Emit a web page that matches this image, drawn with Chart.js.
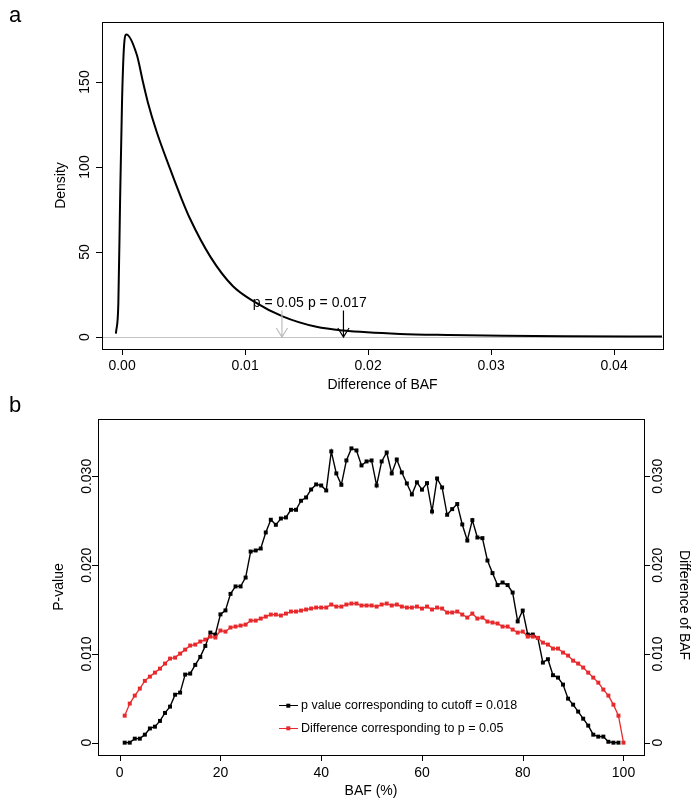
<!DOCTYPE html>
<html>
<head>
<meta charset="utf-8">
<script src="https://cdn.jsdelivr.net/npm/chart.js@4.4.1/dist/chart.umd.min.js"></script>
<style>
  body { margin: 0; background: #fff; }
  #wrapA { position: absolute; left: 0; top: 0; width: 692px; height: 395px; }
  #wrapB { position: absolute; left: 0; top: 395px; width: 692px; height: 404px; }
</style>
</head>
<body>
<div id="wrapA"><canvas id="chartA"></canvas></div>
<div id="wrapB"><canvas id="chartB"></canvas></div>
<script>
// ---- panel a: density of BAF difference ----
const densX = [-0.0005, -0.0003, -0.00016, 0.0, 0.00016, 0.00035, 0.0012, 0.0017, 0.0021, 0.0028, 0.0039,
  0.0048, 0.0055, 0.0072, 0.009, 0.0107, 0.0131, 0.0158, 0.018, 0.0226, 0.0266, 0.031, 0.036, 0.0439];
const densY = [2, 20, 80, 139, 171, 178, 166, 150, 138, 121, 99,
  82, 70, 47, 30, 21, 12, 6, 3.8, 1.8, 1.2, 0.8, 0.5, 0.3];
const xTicksA = [0, 0.01, 0.02, 0.03, 0.04];
const xTickLabelsA = ['0.00', '0.01', '0.02', '0.03', '0.04'];
const yTicksA = [0, 50, 100, 150];
const yTickLabelsA = ['0', '50', '100', '150'];
const arrowX = [0.013, 0.018];
const arrowTop = 15.6;
const arrowColors = ['#bdbdbd', '#000000'];
const arrowLabels = ['p = 0.05', 'p = 0.017'];
const arrowLabelX = [0.0127, 0.0175];
const arrowLabelY = 20.2;

// ---- panel b: p value / difference vs BAF ----
const bafPct = [1, 2, 3, 4, 5, 6, 7, 8, 9, 10, 11, 12, 13, 14, 15, 16, 17, 18, 19, 20,
  21, 22, 23, 24, 25, 26, 27, 28, 29, 30, 31, 32, 33, 34, 35, 36, 37, 38, 39, 40,
  41, 42, 43, 44, 45, 46, 47, 48, 49, 50, 51, 52, 53, 54, 55, 56, 57, 58, 59, 60,
  61, 62, 63, 64, 65, 66, 67, 68, 69, 70, 71, 72, 73, 74, 75, 76, 77, 78, 79, 80,
  81, 82, 83, 84, 85, 86, 87, 88, 89, 90, 91, 92, 93, 94, 95, 96, 97, 98, 99, 100];
const pValue = [0, 0, 0.00045, 0.00045, 0.0009, 0.0016, 0.0018, 0.00245, 0.00335, 0.00406,
  0.0054, 0.00564, 0.00767, 0.00778, 0.00876, 0.00966, 0.0109, 0.0124, 0.01218, 0.01445,
  0.0149, 0.01676, 0.0176, 0.0176, 0.0186, 0.02153, 0.02165, 0.02187, 0.02368, 0.02511,
  0.02454, 0.02525, 0.02537, 0.02623, 0.02623, 0.02725, 0.02762, 0.02852, 0.02909, 0.02897,
  0.02841, 0.03281, 0.03033, 0.02905, 0.03179, 0.03315, 0.03292, 0.03123, 0.03168, 0.03179,
  0.02897, 0.03168, 0.03269, 0.03033, 0.0319, 0.03044, 0.0292, 0.02796, 0.02933, 0.0285,
  0.02924, 0.02604, 0.02976, 0.02875, 0.02567, 0.02631, 0.02688, 0.02458, 0.02277, 0.02507,
  0.02311, 0.02304, 0.02052, 0.0191, 0.01775, 0.01804, 0.01775, 0.01691, 0.01366, 0.01488,
  0.01218, 0.01218, 0.0118, 0.00902, 0.0094, 0.0076, 0.00733, 0.00654, 0.00496, 0.00428,
  0.0035, 0.0027, 0.00192, 0.0009, 0.00068, 0.00068, 0.0001, 0, 0];
const diffBaf = [0.00304, 0.0044, 0.0053, 0.00609, 0.00696, 0.00744, 0.00789, 0.00834, 0.00891, 0.00947,
  0.00958, 0.01003, 0.01048, 0.01094, 0.01105, 0.01139, 0.01161, 0.01195, 0.01184, 0.01263,
  0.01251, 0.01297, 0.01308, 0.01319, 0.0133, 0.01375, 0.01375, 0.01398, 0.0142, 0.01443,
  0.01443, 0.01432, 0.01454, 0.01477, 0.01477, 0.01488, 0.015, 0.01511, 0.01522, 0.01522,
  0.01522, 0.01556, 0.01533, 0.01533, 0.01556, 0.01567, 0.01567, 0.01545, 0.01545, 0.01545,
  0.01533, 0.01556, 0.01567, 0.01545, 0.01556, 0.01533, 0.01522, 0.01522, 0.01533, 0.01511,
  0.01533, 0.015, 0.01522, 0.01511, 0.01466, 0.01466, 0.01477, 0.01443, 0.01409, 0.01454,
  0.01398, 0.01409, 0.01364, 0.01353, 0.01342, 0.01308, 0.01308, 0.01274, 0.0124, 0.01251,
  0.01195, 0.01195, 0.0118, 0.01127, 0.01105, 0.0106, 0.0106, 0.01015, 0.00981, 0.00924,
  0.00891, 0.00846, 0.00789, 0.00733, 0.00676, 0.00598, 0.0053, 0.00428, 0.00304, 0];
const xTicksB = [0, 20, 40, 60, 80, 100];
const yTicksB = [0, 0.01, 0.02, 0.03];
const yTickLabelsB = ['0', '0.010', '0.020', '0.030'];
const legendLabels = ['p value corresponding to cutoff = 0.018', 'Difference corresponding to p = 0.05'];

const FONT = '"Liberation Sans", Arial, Helvetica, sans-serif';
const RED = '#e8292c';

function rotText(ctx, text, x, y, angle) {
  ctx.save();
  ctx.translate(x, y);
  ctx.rotate(angle);
  ctx.textAlign = 'center';
  ctx.textBaseline = 'middle';
  ctx.fillText(text, 0, 0);
  ctx.restore();
}

function drawBox(ctx, a) {
  ctx.strokeStyle = '#000';
  ctx.lineWidth = 1;
  ctx.strokeRect(Math.round(a.left) + 0.5, Math.round(a.top) + 0.5,
    Math.round(a.right - a.left), Math.round(a.bottom - a.top));
}

function vline(ctx, x, y1, y2) {
  ctx.beginPath();
  ctx.moveTo(Math.round(x) + 0.5, y1);
  ctx.lineTo(Math.round(x) + 0.5, y2);
  ctx.stroke();
}
function hline(ctx, y, x1, x2) {
  ctx.beginPath();
  ctx.moveTo(x1, Math.round(y) + 0.5);
  ctx.lineTo(x2, Math.round(y) + 0.5);
  ctx.stroke();
}

const panelAPlugin = {
  id: 'panelA',
  beforeDatasetsDraw(chart) {
    const ctx = chart.ctx, a = chart.chartArea, y = chart.scales.y;
    ctx.save();
    ctx.strokeStyle = '#c4c4c4';
    ctx.lineWidth = 1;
    hline(ctx, y.getPixelForValue(0), a.left, a.right);
    ctx.restore();
  },
  afterDatasetsDraw(chart) {
    const ctx = chart.ctx, a = chart.chartArea, x = chart.scales.x, y = chart.scales.y;
    ctx.save();
    // arrows
    arrowX.forEach((v, i) => {
      const px = x.getPixelForValue(v);
      const y0 = y.getPixelForValue(arrowTop), y1 = y.getPixelForValue(0);
      ctx.strokeStyle = arrowColors[i];
      ctx.lineWidth = 1.2;
      ctx.beginPath();
      ctx.moveTo(px, y0); ctx.lineTo(px, y1);
      ctx.moveTo(px - 5.6, y1 - 9); ctx.lineTo(px, y1); ctx.lineTo(px + 5.6, y1 - 9);
      ctx.stroke();
    });
    ctx.fillStyle = '#000';
    ctx.font = '14px ' + FONT;
    arrowLabels.forEach((t, i) => {
      ctx.textAlign = 'center';
      ctx.textBaseline = 'middle';
      ctx.fillText(t, x.getPixelForValue(arrowLabelX[i]), y.getPixelForValue(arrowLabelY));
    });
    // box and axes
    drawBox(ctx, a);
    ctx.strokeStyle = '#000';
    ctx.lineWidth = 1;
    ctx.font = '14px ' + FONT;
    xTicksA.forEach((v, i) => {
      const px = x.getPixelForValue(v);
      vline(ctx, px, a.bottom, a.bottom + 6);
      ctx.textAlign = 'center';
      ctx.textBaseline = 'middle';
      ctx.fillText(xTickLabelsA[i], px, 366);
    });
    yTicksA.forEach((v, i) => {
      const py = y.getPixelForValue(v);
      hline(ctx, py, a.left - 6, a.left);
      rotText(ctx, yTickLabelsA[i], 85, py, -Math.PI / 2);
    });
    ctx.font = '14px ' + FONT;
    ctx.textAlign = 'center';
    ctx.fillText('Difference of BAF', (a.left + a.right) / 2, 385);
    rotText(ctx, 'Density', 61, (a.top + a.bottom) / 2, -Math.PI / 2);
    ctx.font = '22px ' + FONT;
    ctx.textAlign = 'left';
    ctx.textBaseline = 'alphabetic';
    ctx.fillText('a', 9, 22);
    ctx.restore();
  }
};

const panelBPlugin = {
  id: 'panelB',
  afterDatasetsDraw(chart) {
    const ctx = chart.ctx, a = chart.chartArea, x = chart.scales.x, y = chart.scales.y, y2 = chart.scales.y2;
    ctx.save();
    drawBox(ctx, a);
    ctx.strokeStyle = '#000';
    ctx.fillStyle = '#000';
    ctx.lineWidth = 1;
    ctx.font = '14px ' + FONT;
    xTicksB.forEach(v => {
      const px = x.getPixelForValue(v);
      vline(ctx, px, a.bottom, a.bottom + 6);
      ctx.textAlign = 'center';
      ctx.textBaseline = 'middle';
      ctx.fillText(String(v), px, 378.5);
    });
    yTicksB.forEach((v, i) => {
      const py = y.getPixelForValue(v);
      hline(ctx, py, a.left - 6, a.left);
      rotText(ctx, yTickLabelsB[i], 87, py, -Math.PI / 2);
      const py2 = y2.getPixelForValue(v);
      hline(ctx, py2, a.right, a.right + 6);
      rotText(ctx, yTickLabelsB[i], 658, py2, -Math.PI / 2);
    });
    ctx.textAlign = 'center';
    ctx.fillText('BAF (%)', (a.left + a.right) / 2, 396);
    rotText(ctx, 'P-value', 59, (a.top + a.bottom) / 2, -Math.PI / 2);
    rotText(ctx, 'Difference of BAF', 684, 210, Math.PI / 2);
    // legend
    const colors = ['#000', RED];
    const rows = [310.7, 333.3];
    ctx.font = '12.5px ' + FONT;
    legendLabels.forEach((t, i) => {
      ctx.strokeStyle = colors[i];
      ctx.fillStyle = colors[i];
      ctx.lineWidth = 1;
      hline(ctx, rows[i] - 0.5, 279, 298);
      ctx.fillRect(288.3 - 2, rows[i] - 2, 4, 4);
      ctx.fillStyle = '#000';
      ctx.textAlign = 'left';
      ctx.textBaseline = 'middle';
      ctx.fillText(t, 301, rows[i]);
    });
    ctx.font = '22px ' + FONT;
    ctx.textAlign = 'left';
    ctx.textBaseline = 'alphabetic';
    ctx.fillText('b', 9, 16.5);
    ctx.restore();
  }
};

const common = {
  responsive: true,
  maintainAspectRatio: false,
  animation: false,
  plugins: { legend: { display: false }, tooltip: { enabled: false } }
};

new Chart(document.getElementById('chartA').getContext('2d'), {
  type: 'line',
  data: {
    datasets: [{
      data: densX.map((v, i) => ({ x: v, y: densY[i] })),
      borderColor: '#000',
      borderWidth: 2,
      pointRadius: 0,
      cubicInterpolationMode: 'monotone',
      fill: false
    }]
  },
  options: Object.assign({}, common, {
    layout: { padding: { left: 102, top: 22, right: 29, bottom: 46 } },
    scales: {
      x: { type: 'linear', display: false, min: -0.00163, max: 0.04398 },
      y: { type: 'linear', display: false, min: -7.06, max: 185.3 }
    }
  }),
  plugins: [panelAPlugin]
});

new Chart(document.getElementById('chartB').getContext('2d'), {
  type: 'line',
  data: {
    datasets: [{
      label: legendLabels[1],
      data: diffBaf.map((v, i) => ({ x: bafPct[i], y: v })),
      yAxisID: 'y2',
      borderColor: RED,
      backgroundColor: RED,
      borderWidth: 1.3,
      pointStyle: 'rect',
      pointRadius: 2.8,
      pointBorderWidth: 0,
      tension: 0
    }, {
      label: legendLabels[0],
      data: pValue.map((v, i) => ({ x: bafPct[i], y: v })),
      yAxisID: 'y',
      borderColor: '#000',
      backgroundColor: '#000',
      borderWidth: 1.4,
      pointStyle: 'rect',
      pointRadius: 2.8,
      pointBorderWidth: 0,
      tension: 0
    }]
  },
  options: Object.assign({}, common, {
    layout: { padding: { left: 98, top: 24, right: 48, bottom: 44 } },
    scales: {
      x: { type: 'linear', display: false, min: -4.3, max: 104.07 },
      y: { type: 'linear', display: false, min: -0.00139, max: 0.03646, position: 'left' },
      y2: { type: 'linear', display: false, min: -0.00139, max: 0.03646, position: 'right' }
    }
  }),
  plugins: [panelBPlugin]
});
</script>
</body>
</html>
